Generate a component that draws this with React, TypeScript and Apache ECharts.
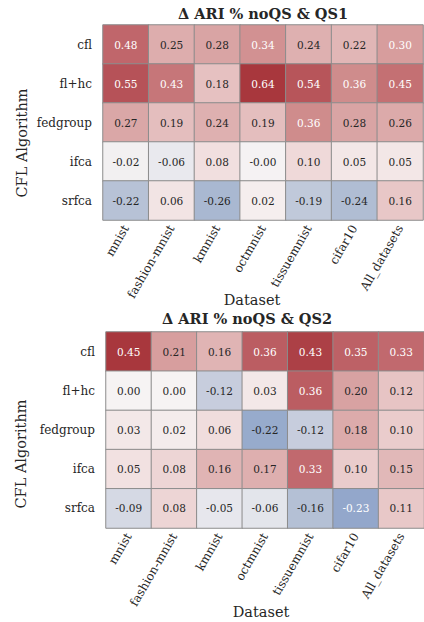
import React, { useEffect, useRef } from "react";
import * as echarts from "echarts";

const datasets = ["mnist", "fashion-mnist", "kmnist", "octmnist", "tissuemnist", "cifar10", "All_datasets"];
const algorithms = ["cfl", "fl+hc", "fedgroup", "ifca", "srfca"];

// Δ ARI % noQS & QS1 (rows = algorithms, cols = datasets)
const qs1Cfl = [0.48, 0.25, 0.28, 0.34, 0.24, 0.22, 0.3];
const qs1FlHc = [0.55, 0.43, 0.18, 0.64, 0.54, 0.36, 0.45];
const qs1Fedgroup = [0.27, 0.19, 0.24, 0.19, 0.36, 0.28, 0.26];
const qs1Ifca = [-0.02, -0.06, 0.08, -0.004, 0.1, 0.05, 0.05];
const qs1Srfca = [-0.22, 0.06, -0.26, 0.02, -0.19, -0.24, 0.16];

// Δ ARI % noQS & QS2
const qs2Cfl = [0.45, 0.21, 0.16, 0.36, 0.43, 0.35, 0.33];
const qs2FlHc = [0.0, 0.0, -0.12, 0.03, 0.36, 0.2, 0.12];
const qs2Fedgroup = [0.03, 0.02, 0.06, -0.22, -0.12, 0.18, 0.1];
const qs2Ifca = [0.05, 0.08, 0.16, 0.17, 0.33, 0.1, 0.15];
const qs2Srfca = [-0.09, 0.08, -0.05, -0.06, -0.16, -0.23, 0.11];

const titles = ["Δ ARI % noQS & QS1", "Δ ARI % noQS & QS2"];
const xName = "Dataset";
const yName = "CFL Algorithm";

// vlag-like diverging palette, evenly spaced from -vmax to +vmax
const vlag = [
  "#2369bd", "#4775bf", "#6585c2", "#7e96c6", "#95a9cb", "#b0bdd3", "#cad0de", "#e5e6ec",
  "#f6f3f3",
  "#f1dfdf", "#e8c7c7", "#deb0b0", "#d49797", "#ca8081", "#c0666b", "#b44f55", "#a8373d",
];

const FONT = "DejaVu Serif";
const DARK = "#262626";

function buildData(rows: number[][]) {
  const vmax = Math.max(...rows.flat().map((v) => Math.abs(v)));
  const data: any[] = [];
  rows.forEach((row, yi) =>
    row.forEach((v, xi) => {
      const t = v / vmax;
      const light = t >= 0.468 || t <= -0.5;
      data.push({ value: [xi, yi, v], label: { color: light ? "#ffffff" : DARK } });
    })
  );
  return { data, vmax };
}

export default function App() {
  const ref = useRef<HTMLDivElement>(null);
  useEffect(() => {
    document.body.style.margin = "0";
    const chart = echarts.init(ref.current!, undefined, { renderer: "svg" });
    const h1 = buildData([qs1Cfl, qs1FlHc, qs1Fedgroup, qs1Ifca, qs1Srfca]);
    const h2 = buildData([qs2Cfl, qs2FlHc, qs2Fedgroup, qs2Ifca, qs2Srfca]);
    const grids = [
      { left: 103, top: 25, width: 320, height: 195 },
      { left: 106, top: 332, width: 318, height: 196 },
    ];
    const xAxis = grids.map((_, i) => ({
      type: "category",
      gridIndex: i,
      data: datasets,
      axisLine: { show: false },
      axisTick: { show: false },
      splitLine: { show: false },
      axisLabel: { rotate: 60, margin: 6, fontFamily: FONT, fontSize: 12, color: DARK, interval: 0 },
    }));
    const yAxis = grids.map((_, i) => ({
      type: "category",
      gridIndex: i,
      data: algorithms,
      inverse: true,
      axisLine: { show: false },
      axisTick: { show: false },
      splitLine: { show: false },
      axisLabel: { margin: 11, fontFamily: FONT, fontSize: 12, color: DARK, interval: 0 },
    }));
    const series = [h1, h2].map((h, i) => ({
      type: "heatmap",
      xAxisIndex: i,
      yAxisIndex: i,
      data: h.data,
      label: {
        show: true,
        fontFamily: FONT,
        fontSize: 10.5,
        formatter: (p: any) => p.value[2].toFixed(2),
      },
      itemStyle: { borderColor: "#8c8c8c", borderWidth: 1 },
      emphasis: { disabled: true },
    }));
    const visualMap = [h1, h2].map((h, i) => ({
      type: "continuous",
      show: false,
      seriesIndex: i,
      dimension: 2,
      min: -h.vmax,
      max: h.vmax,
      inRange: { color: vlag },
    }));
    const text = (t: string, x: number, y: number, bold = false, rot = 0) => ({
      type: "text",
      x,
      y,
      rotation: rot,
      style: {
        text: t,
        fill: DARK,
        font: `${bold ? "bold " : ""}14.5px "${FONT}"`,
        textAlign: "center",
        textVerticalAlign: "middle",
      },
    });
    chart.setOption({
      animation: false,
      backgroundColor: "#ffffff",
      grid: grids,
      xAxis,
      yAxis,
      visualMap,
      series,
      graphic: [
        text(titles[0], 263, 13, true),
        text(titles[1], 247, 318, true),
        text(xName, 252, 300),
        text(xName, 261, 612),
        text(yName, 22, 143, false, Math.PI / 2),
        text(yName, 21, 454, false, Math.PI / 2),
      ],
    });
    return () => chart.dispose();
  }, []);
  return <div ref={ref} style={{ width: 424, height: 622 }} />;
}
